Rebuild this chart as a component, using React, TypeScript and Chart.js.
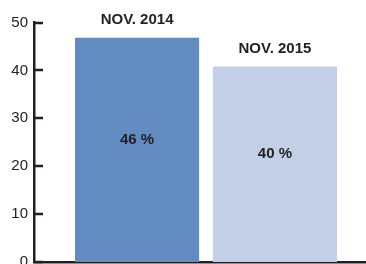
import React, { useEffect, useRef } from "react";
import { Chart, registerables } from "chart.js";

Chart.register(...registerables);

const periods = ["NOV. 2014", "NOV. 2015"];
const values = [46.8, 40.8];
const valueLabels = ["46 %", "40 %"];
const barColors = ["#628BC2", "#C3CFE7"];
const yTicks = [0, 10, 20, 30, 40, 50];

const INK = "#231F20";

const labelPlugin = {
  id: "barLabels",
  afterDatasetsDraw(chart: any) {
    const ctx = chart.ctx;
    ctx.save();
    ctx.font = "bold 15px 'Liberation Sans', Arial, sans-serif";
    ctx.fillStyle = INK;
    ctx.textAlign = "center";
    ctx.textBaseline = "middle";
    chart.data.datasets.forEach((ds: any, i: number) => {
      const meta = chart.getDatasetMeta(i);
      meta.data.forEach((bar: any) => {
        ctx.fillText(ds.label, bar.x, bar.y - 17.5);
        ctx.fillText(valueLabels[i], bar.x, (bar.y + bar.base) / 2 - 10);
      });
    });
    ctx.restore();
  },
  afterDraw(chart: any) {
    const ctx = chart.ctx;
    const y = chart.scales.y;
    const left = chart.chartArea.left;
    ctx.save();
    ctx.strokeStyle = INK;
    ctx.lineWidth = 2.5;
    y.ticks.forEach((t: any) => {
      const py = Math.round(y.getPixelForValue(t.value));
      ctx.beginPath();
      ctx.moveTo(left, py);
      ctx.lineTo(left + 9, py);
      ctx.stroke();
    });
    ctx.restore();
  },
};

export default function App() {
  const ref = useRef<HTMLCanvasElement>(null);
  useEffect(() => {
    if (!ref.current) return;
    const chart = new Chart(ref.current, {
      type: "bar",
      data: {
        labels: [""],
        datasets: periods.map((p, i) => ({
          label: p,
          data: [values[i]],
          backgroundColor: barColors[i],
          borderWidth: 0,
          categoryPercentage: 0.8016,
          barPercentage: 0.9,
        })),
      },
      options: {
        animation: false,
        responsive: false,
        layout: { padding: { top: 22.5, bottom: 18, left: 0, right: 0 } },
        plugins: { legend: { display: false }, tooltip: { enabled: false } },
        scales: {
          x: {
            z: 1,
            grid: { display: false, drawTicks: false },
            ticks: { display: false },
            border: { display: true, color: INK, width: 2.5 },
          },
          y: {
            min: 0,
            max: 50,
            afterBuildTicks: (s: any) => {
              s.ticks = yTicks.map((v) => ({ value: v }));
            },
            afterFit: (s: any) => {
              s.width = 34;
            },
            grid: { display: false, drawTicks: false },
            border: { display: true, color: INK, width: 2.5 },
            ticks: {
              padding: 6,
              color: "#222",
              font: { family: "'Liberation Sans', Arial, sans-serif", size: 15 },
            },
          },
        },
      },
      plugins: [labelPlugin],
    });
    return () => chart.destroy();
  }, []);
  return (
    <div
      style={{
        position: "fixed",
        left: 0,
        top: 0,
        width: 366,
        height: 264,
        overflow: "hidden",
        background: "#fff",
      }}
    >
      <canvas ref={ref} width={378} height={280} style={{ display: "block" }} />
    </div>
  );
}
